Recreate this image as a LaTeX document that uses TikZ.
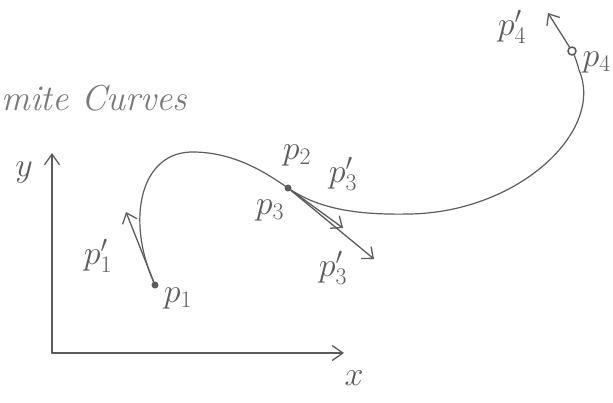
\RequirePackage{fix-cm}
\documentclass[tikz,border=0pt]{standalone}
\usepackage{amsmath}
\usepackage{tikz}
\usetikzlibrary{arrows.meta,calc}
\definecolor{sketchink}{HTML}{5C5C5C}
\definecolor{sketchpale}{HTML}{7A7A7A}

\begin{document}
\begin{tikzpicture}[x=1pt,y=-1pt,line cap=round,line join=round,
  draw=sketchink,text=sketchink,
  dot/.style={circle,inner sep=0pt,minimum size=7pt,fill=sketchink},
  ring/.style={circle,inner sep=0pt,minimum size=8pt,draw=sketchink,line width=1.6pt},
  lbl/.style={inner sep=1pt,font=\fontsize{34}{38}\selectfont},
  curve/.style={line width=1.2pt},
  tangent/.style={line width=1.3pt,-{Straight Barb[angle=80:12pt,line width=1.3pt]}},
  axis/.style={line width=1.4pt,-{Straight Barb[angle=70:13pt,line width=1.3pt]}}]
\path[use as bounding box] (0,0) rectangle (613,402);
\fill[white] (0,0) rectangle (613,402);

% titel (links abgeschnitten)
\node[anchor=base west,inner sep=0pt,text=sketchpale,
  font=\fontsize{36}{40}\selectfont\itshape] (title) at (1,110) {mite Curves};

% achsen
\coordinate (o) at (52,353);
\coordinate (ytip) at (52,153);
\coordinate (xtip) at (344,353);
\draw[axis] (o) -- (ytip);
\draw[axis] (o) -- (xtip);
\node[lbl] (ylab) at (24,172) {$y$};
\node[lbl] (xlab) at (354,378) {$x$};

% punkte der kurve
\node[dot] (p1) at (155,285) {};
\node[dot] (p2) at (288,188) {};
\node[ring] (p4) at (572,51) {};

% hermite-kurve
\draw[curve] (p1.center) .. controls (125,220) and (140,150) .. (195,152)
  .. controls (235,153) and (265,172) .. (p2.center);
\draw[curve] (p2.center) .. controls (320,210) and (360,215) .. (410,214)
  .. controls (520,212) and (605,130) .. (579,70)
  .. controls (577,62) and (575,57) .. (p4);

% tangenten
\coordinate (t1) at (126,212);
\coordinate (t3a) at (343,228);
\coordinate (t3b) at (374,259);
\coordinate (t4) at (548,13);
\draw[tangent] (p1) -- (t1);
\draw[tangent] (p2) -- (t3a);
\draw[tangent] (p2) -- (t3b);
\draw[tangent] (p4) -- (t4);

% beschriftungen
\node[lbl] (l1) at (178,298) {$p_1$};
\node[lbl] (l1t) at (98,256) {$p_1'$};
\node[lbl] (l2) at (297,155) {$p_2$};
\node[lbl] (l3) at (270,210) {$p_3$};
\node[lbl] (l3a) at (343,174) {$p_3'$};
\node[lbl] (l3b) at (333,268) {$p_3'$};
\node[lbl,anchor=east] (l4) at (612,62) {$p_4$};
\node[lbl] (l4t) at (512,27) {$p_4'$};
\end{tikzpicture}
\end{document}
